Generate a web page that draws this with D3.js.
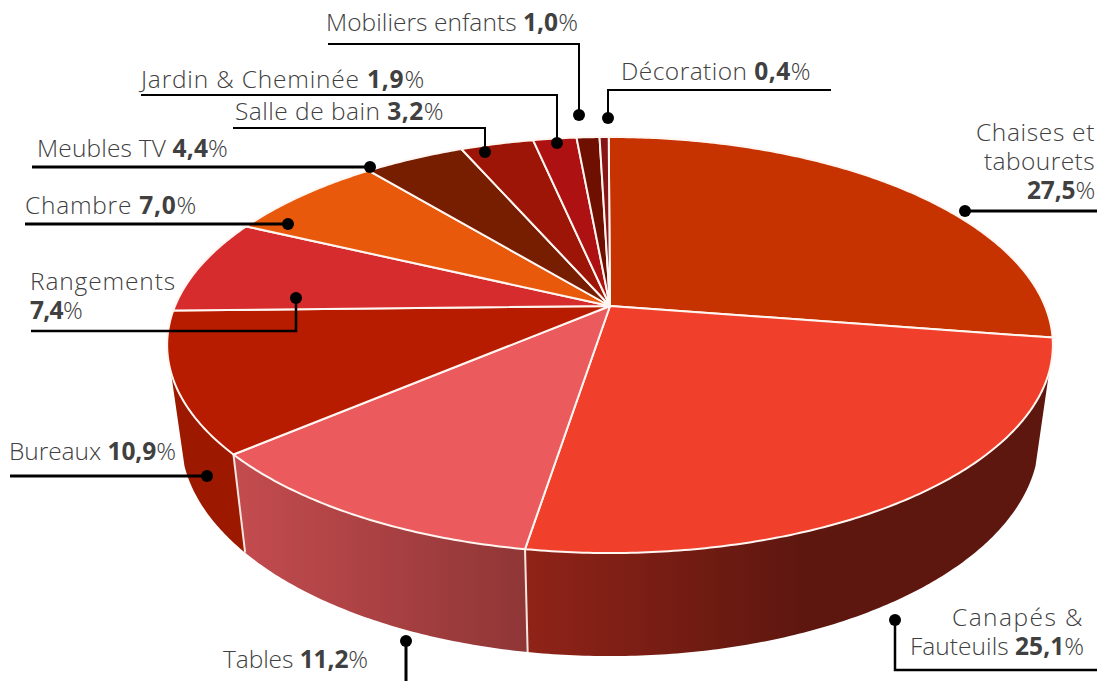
<!DOCTYPE html>
<html>
<head>
<meta charset="utf-8">
<script src="https://cdn.jsdelivr.net/npm/d3@7"></script>
<style>
  html, body { margin: 0; background: #fff; overflow: hidden; }
  text { font-family: "Open Sans", sans-serif; font-size: 24.5px; fill: #404040; font-weight: 300; }
  tspan.val { font-weight: 700; }
</style>
</head>
<body>
<div id="chart"></div>
<script>
const width = 1097;
const height = 681;

const categories = ["Chaises et tabourets", "Canapés & Fauteuils", "Tables", "Bureaux", "Rangements", "Chambre", "Meubles TV", "Salle de bain", "Jardin & Cheminée", "Mobiliers enfants", "Décoration"];
const values = [27.5, 25.1, 11.2, 10.9, 7.4, 7.0, 4.4, 3.2, 1.9, 1.0, 0.4];
const colors = ["#C73300", "#F0402B", "#EB5B5E", "#B81C00", "#D72C2E", "#E8590C", "#771D00", "#9C1506", "#AE1111", "#6E0F00", "#861515"];

// label text per category, {v} is the value
const labelLines = [
  ["Chaises et", "tabourets", "{v}"],
  ["Canapés &", "Fauteuils {v}"],
  ["Tables {v}"],
  ["Bureaux {v}"],
  ["Rangements", "{v}"],
  ["Chambre {v}"],
  ["Meubles TV {v}"],
  ["Salle de bain {v}"],
  ["Jardin & Cheminée {v}"],
  ["Mobiliers enfants {v}"],
  ["Décoration {v}"]
];

// callouts were placed by hand in the original, so they are laid out by hand here
const labelX = [1095, 1084, 223, 9, 30, 25, 37, 235, 141, 326, 621];
const labelY = [141, 626, 668, 460, 290, 214, 157, 120, 88, 31, 80];
const labelAnchor = ["end", "end", "start", "start", "start", "start", "start", "start", "start", "start", "start"];
// width of each text row in the original font
const rowWidths = [[119, 111, 68], [132, 174], [145], [167], [146, 52], [172], [191], [209], [284], [252], [190]];
const leaders = [
  [[1097, 211], [965, 211]],
  [[1097, 670], [895, 670], [895, 620]],
  [[406, 681], [406, 641]],
  [[10, 476], [207, 476]],
  [[31, 331], [296, 331], [296, 298]],
  [[25, 224], [288, 224]],
  [[32, 167], [370, 167]],
  [[233, 128], [485, 128], [485, 152]],
  [[141, 95], [557, 95], [557, 143]],
  [[328, 44], [579, 44], [579, 115]],
  [[831, 90], [608, 90], [608, 118]]
];
const leaderWidth = [3, 2.5, 3, 3, 2.5, 3, 3, 2, 2, 2, 2];

const svg = d3
  .select("#chart")
  .append("svg")
  .attr("width", width)
  .attr("height", height)
  .style("display", "block");

// perspective disc: top rim and bottom rim of the cylinder
const persp = -0.1875;
const topRim = { cx: 610, cy: 306, rx: 435, ry: 200.7 };
const bottomRim = { cx: 610, cy: 397, rx: 421.5, ry: 210.5 };

function rimPoint(rim, a) {
  const u = Math.sin(a);
  const v = -Math.cos(a);
  const d = 1 + persp * v;
  return [rim.cx + (rim.rx * u) / d, rim.cy + (rim.ry * v) / d];
}

function arcAngles(a0, a1) {
  const n = Math.max(2, Math.ceil((a1 - a0) / 0.01));
  return d3.range(n + 1).map((i) => a0 + ((a1 - a0) * i) / n);
}

const line = d3.line();

const turn = (-0.2 * Math.PI) / 180;
const slices = d3
  .pie()
  .sort(null)
  .startAngle(turn)
  .endAngle(2 * Math.PI + turn)
  .value((d) => d)(values);

// gradients for the front wall
const defs = svg.append("defs");
const wallFills = [null, "url(#wallCanapes)", "url(#wallTables)", "#9C1900"];
const gradients = [
  { id: "wallCanapes", x1: 527, x2: 800, from: "#902318", to: "#5E170F" },
  { id: "wallTables", x1: 244, x2: 527, from: "#C24B4E", to: "#8F3636" }
];
gradients.forEach((g) => {
  const lg = defs
    .append("linearGradient")
    .attr("id", g.id)
    .attr("gradientUnits", "userSpaceOnUse")
    .attr("x1", g.x1)
    .attr("x2", g.x2)
    .attr("y1", 0)
    .attr("y2", 0);
  lg.append("stop").attr("offset", 0).attr("stop-color", g.from);
  lg.append("stop").attr("offset", 1).attr("stop-color", g.to);
});

// only this part of the wall can be seen
const visibleFrom = (108 * Math.PI) / 180;
const visibleTo = (252 * Math.PI) / 180;

const walls = slices
  .map((s, i) => ({
    i,
    a0: Math.max(s.startAngle, visibleFrom),
    a1: Math.min(s.endAngle, visibleTo)
  }))
  .filter((d) => d.a0 < d.a1);

svg
  .append("g")
  .selectAll("path")
  .data(walls)
  .enter()
  .append("path")
  .attr("fill", (d) => wallFills[d.i])
  .attr("d", (d) => {
    const up = arcAngles(d.a0, d.a1).map((a) => rimPoint(topRim, a));
    const down = arcAngles(d.a0, d.a1).reverse().map((a) => rimPoint(bottomRim, a));
    return line(up.concat(down)) + "Z";
  });

// separators on the wall
svg
  .append("g")
  .selectAll("line")
  .data(walls.slice(1))
  .enter()
  .append("line")
  .attr("x1", (d) => rimPoint(topRim, d.a0)[0])
  .attr("y1", (d) => rimPoint(topRim, d.a0)[1])
  .attr("x2", (d) => rimPoint(bottomRim, d.a0)[0])
  .attr("y2", (d) => rimPoint(bottomRim, d.a0)[1])
  .attr("stroke", "#f6e6e2")
  .attr("stroke-width", 2);

// top of the pie
svg
  .append("g")
  .selectAll("path")
  .data(slices)
  .enter()
  .append("path")
  .attr("fill", (d, i) => colors[i])
  .attr("stroke", "#fff6f2")
  .attr("stroke-width", 2)
  .attr("stroke-linejoin", "round")
  .attr("d", (d) => {
    const pts = arcAngles(d.startAngle, d.endAngle).map((a) => rimPoint(topRim, a));
    return line([[topRim.cx, topRim.cy]].concat(pts)) + "Z";
  });

// leader lines and dots
const callouts = svg.append("g");
callouts
  .selectAll("path")
  .data(leaders)
  .enter()
  .append("path")
  .attr("fill", "none")
  .attr("stroke", "#000")
  .attr("stroke-width", (d, i) => leaderWidth[i])
  .attr("d", (d) => line(d));

callouts
  .selectAll("circle")
  .data(leaders)
  .enter()
  .append("circle")
  .attr("cx", (d) => d[d.length - 1][0])
  .attr("cy", (d) => d[d.length - 1][1])
  .attr("r", 6)
  .attr("fill", "#000");

// labels, one text per row
const formatValue = (v) => v.toFixed(1).replace(".", ",");
const labelRows = labelLines.flatMap((rows, i) =>
  rows.map((row, r) => ({ row, r, i }))
);

svg
  .append("g")
  .selectAll("text")
  .data(labelRows)
  .enter()
  .append("text")
  .attr("x", (d) => labelX[d.i])
  .attr("y", (d) => labelY[d.i] + d.r * 29)
  .attr("text-anchor", (d) => labelAnchor[d.i])
  .each(function (d) {
    const text = d3.select(this);
    const name = d.row.replace("{v}", "");
    if (name) text.append("tspan").text(name);
    if (d.row.includes("{v}")) {
      text.append("tspan").attr("class", "val").text(formatValue(values[d.i]));
      text.append("tspan").text("%");
    }
    // stretch to the width of the original font
    const chars = text.text().length;
    const extra = rowWidths[d.i][d.r] - this.getComputedTextLength();
    text.style("letter-spacing", `${extra / chars}px`);
  });
</script>
</body>
</html>
